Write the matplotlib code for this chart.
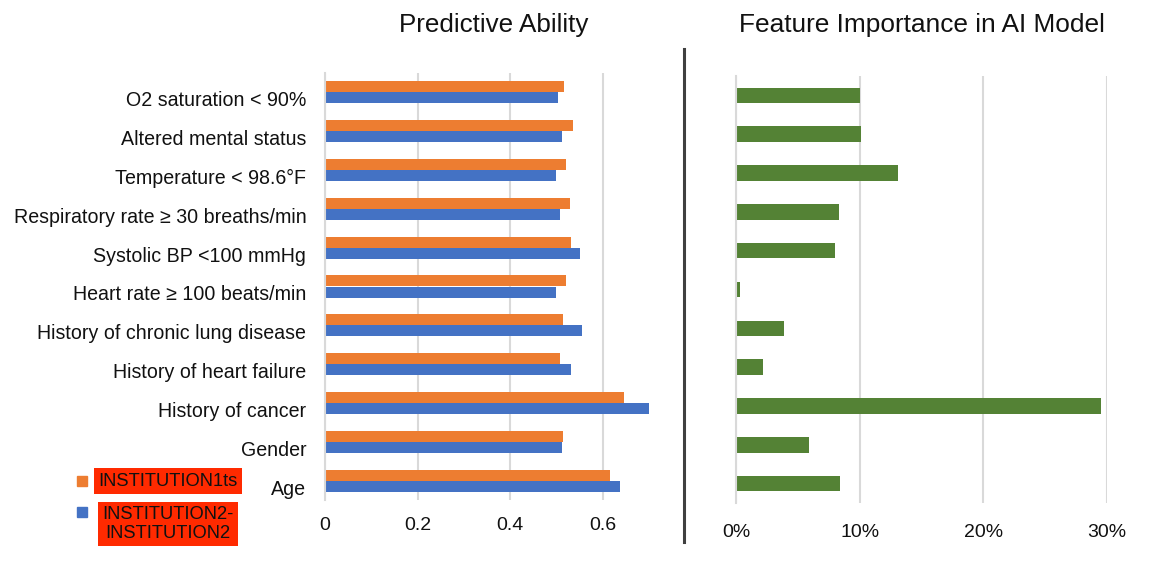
import matplotlib
matplotlib.use("Agg")
import matplotlib.pyplot as plt
from matplotlib.lines import Line2D
from matplotlib.ticker import PercentFormatter
from matplotlib.transforms import ScaledTranslation

plt.rcParams['font.family'] = ['Liberation Sans', 'DejaVu Sans']

categories = ["O2 saturation < 90%", "Altered mental status", "Temperature < 98.6\u00b0F",
              "Respiratory rate \u2265 30 breaths/min", "Systolic BP <100 mmHg",
              "Heart rate \u2265 100 beats/min", "History of chronic lung disease",
              "History of heart failure", "History of cancer", "Gender", "Age"]
inst1 = [0.516, 0.536, 0.520, 0.530, 0.531, 0.520, 0.514, 0.507, 0.646, 0.514, 0.615]
inst2 = [0.504, 0.512, 0.499, 0.507, 0.552, 0.498, 0.556, 0.532, 0.700, 0.512, 0.637]
importance = [0.1005, 0.101, 0.131, 0.083, 0.080, 0.003, 0.0386, 0.022, 0.295, 0.059, 0.084]
legend_labels = ["INSTITUTION1ts", "INSTITUTION2-\nINSTITUTION2"]

orange = "#ED7D31"
blue = "#4472C4"
green = "#548235"
grid_c = "#D9D9D9"
txt_c = "#111111"

W, H = 1155, 569
fig = plt.figure(figsize=(W / 100, H / 100), dpi=100)

def px_axes(x0, x1, ytop, ybot):
    return fig.add_axes([x0 / W, (H - ybot) / H, (x1 - x0) / W, (ybot - ytop) / H])

ys = list(range(len(categories)))
bh = 0.285

ax1 = px_axes(325, 649, 73, 500)
ax1.barh([y - bh / 2 for y in ys], inst1, height=bh, color=orange)
ax1.barh([y + bh / 2 for y in ys], inst2, height=bh, color=blue)
ax1.set_xlim(0, 0.7)
ax1.set_ylim(len(categories) - 0.5, -0.5)
ax1.set_xticks([0, 0.2, 0.4, 0.6])
ax1.set_xticklabels(["0", "0.2", "0.4", "0.6"])
ax1.set_yticks(ys)
ax1.set_yticklabels(categories)
ax1.tick_params(axis='y', length=0, pad=13.5, labelsize=14.1, labelcolor=txt_c)
ax1.tick_params(axis='x', length=0, pad=12, labelsize=14, labelcolor=txt_c)
# labels sit a little below the bar pair, as in the original
shift = ScaledTranslation(0, -6.5 / 100, fig.dpi_scale_trans)
for lab in ax1.get_yticklabels():
    lab.set_transform(lab.get_transform() + shift)

ax2 = px_axes(736, 1107, 76, 503)
ax2.barh(ys, importance, height=0.4, color=green)
ax2.set_xlim(0, 0.30)
ax2.set_ylim(len(categories) - 0.5, -0.5)
ax2.set_xticks([0, 0.1, 0.2, 0.3])
ax2.xaxis.set_major_formatter(PercentFormatter(1.0, decimals=0))
ax2.set_yticks([])
ax2.tick_params(axis='x', length=0, pad=15, labelsize=14, labelcolor=txt_c)

for ax in (ax1, ax2):
    for s in ("top", "right", "bottom"):
        ax.spines[s].set_visible(False)
    ax.spines["left"].set_color(grid_c)
    ax.spines["left"].set_linewidth(1.5)
    ax.xaxis.grid(True, color=grid_c, linewidth=1.5)
    ax.set_axisbelow(True)

fig.text(494 / W, 1 - 25 / H, "Predictive Ability", ha='center', va='center', fontsize=18.7, color=txt_c)
fig.text(922 / W, 1 - 25 / H, "Feature Importance in AI Model", ha='center', va='center', fontsize=18.9, color=txt_c)

# divider
fig.add_artist(Line2D([684 / W, 684 / W], [1 - 49 / H, 1 - 542 / H], color="#404040", linewidth=2.2))

# legend with red label boxes
for (ly, my, col, lab) in [(481, 481, orange, legend_labels[0]), (524, 512, blue, legend_labels[1])]:
    fig.add_artist(Line2D([82 / W], [1 - my / H], marker='s', markersize=7, color=col, linestyle='none'))
    fig.text(168 / W, 1 - ly / H, lab, ha='center', va='center', fontsize=13.2, color=txt_c,
             linespacing=1.1, multialignment='center',
             bbox=dict(boxstyle='square,pad=0.25', facecolor='#FF2A00', edgecolor='none'))

fig.savefig("out.png", dpi=100)
